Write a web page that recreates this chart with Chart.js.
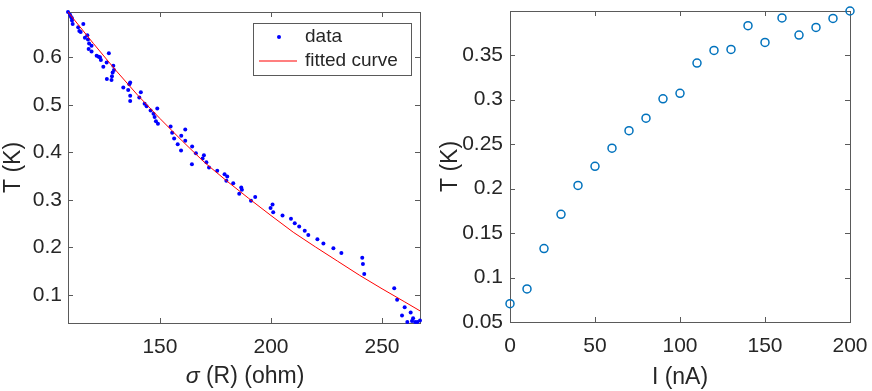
<!DOCTYPE html>
<html>
<head>
<meta charset="utf-8">
<script src="https://cdn.jsdelivr.net/npm/chart.js@4"></script>
<style>
  body { margin: 0; background: #fff; }
  #wrap { position: relative; width: 872px; height: 391px; }
  canvas { position: absolute; top: 0; }
</style>
</head>
<body>
<div id="wrap">
  <canvas id="fit-chart" width="436" height="391" style="left:0"></canvas>
  <canvas id="current-chart" width="436" height="391" style="left:436px"></canvas>
</div>
<script>
// left panel: measured points
const sigma = [108.6, 109.5, 109.9, 110.4, 110.4, 110.7, 113.2, 113.7, 114.3, 115.5, 116.2, 117.3, 117.6, 118.1, 117.9,
  119.2, 119.2, 121.5, 122.4, 123.0, 123.4, 124.5, 126.0, 126.1, 127.0, 128.2, 128.4, 128.7, 129.0, 129.3,
  133.5, 135.7, 136.2, 136.6, 136.6, 136.6, 140.7, 141.4, 143.1, 144.0, 145.8, 147.1, 147.6, 148.2, 148.8,
  149.1, 154.8, 155.5, 156.4, 158.0, 159.5, 159.6, 161.4, 161.4, 164.4, 164.5, 166.2, 169.2, 169.8, 170.9,
  172.1, 175.8, 179.1, 179.9, 180.3, 183.0, 185.7, 186.6, 186.9, 191.0, 192.9, 199.8, 200.7, 201.0, 205.2,
  209.0, 210.7, 212.7, 215.2, 216.8, 220.9, 223.6, 228.1, 231.7, 241.1, 241.4, 242.0, 255.5, 256.8, 259.0,
  260.2, 261.4, 262.9, 263.5, 264.0, 264.9, 265.9, 267.1]
const temp = [0.695, 0.689, 0.685, 0.682, 0.677, 0.670, 0.663, 0.655, 0.653, 0.670, 0.641, 0.646, 0.637, 0.629, 0.617,
  0.624, 0.612, 0.603, 0.601, 0.600, 0.594, 0.580, 0.589, 0.554, 0.608, 0.552, 0.560, 0.568, 0.582, 0.573,
  0.536, 0.531, 0.543, 0.547, 0.519, 0.508, 0.515, 0.526, 0.502, 0.497, 0.488, 0.481, 0.474, 0.465, 0.492,
  0.460, 0.454, 0.441, 0.429, 0.417, 0.404, 0.435, 0.448, 0.424, 0.375, 0.412, 0.398, 0.387, 0.394, 0.379,
  0.368, 0.361, 0.354, 0.340, 0.349, 0.335, 0.313, 0.326, 0.321, 0.298, 0.306, 0.283, 0.290, 0.274, 0.267,
  0.260, 0.251, 0.244, 0.235, 0.226, 0.217, 0.208, 0.198, 0.188, 0.178, 0.165, 0.144, 0.114, 0.090, 0.057,
  0.074, 0.043, 0.063, 0.045, 0.051, 0.043, 0.043, 0.046]

// left panel: fitted curve
const fitSigma = [108.6, 120, 130, 140, 150, 160, 170, 180, 190, 200, 210, 220, 230, 240, 250, 260, 267.1]
const fitTemp = [0.695, 0.629, 0.573, 0.520, 0.471, 0.424, 0.379, 0.340, 0.303, 0.267, 0.232, 0.201, 0.171, 0.141, 0.113, 0.086, 0.0665]

// right panel
const current = [0, 10, 20, 30, 40, 50, 60, 70, 80, 90, 100, 110, 120, 130, 140, 150, 160, 170, 180, 190, 200]
const tempVsCurrent = [0.0706, 0.0872, 0.1325, 0.171, 0.2035, 0.225, 0.2453, 0.265, 0.279, 0.3008, 0.307, 0.341,
  0.3552, 0.3563, 0.383, 0.3642, 0.3917, 0.3725, 0.381, 0.3912, 0.3995]

const TEXT = '#262626'
const AXIS = '#5a5a5a'
const DOT_COLOR = '#0000ff'
const FIT_COLOR = '#ff0000'
const TICK = 5
const FONT = '"Liberation Sans", Helvetica, Arial, sans-serif'

Chart.defaults.font.family = FONT
Chart.defaults.color = TEXT

const pairs = (xs, ys) => xs.map((x, i) => ({ x: x, y: ys[i] }))

// box around the plot area with inward ticks on all four sides
const framePlugin = {
  id: 'frame',
  beforeDatasetsDraw(chart) {
    const { ctx, chartArea: a, scales } = chart
    ctx.save()
    ctx.strokeStyle = AXIS
    ctx.lineWidth = 1
    ctx.strokeRect(a.left + 0.5, a.top + 0.5, a.right - a.left, a.bottom - a.top)
    ctx.beginPath()
    scales.x.ticks.forEach(t => {
      const px = Math.round(scales.x.getPixelForValue(t.value)) + 0.5
      ctx.moveTo(px, a.bottom); ctx.lineTo(px, a.bottom - TICK)
      ctx.moveTo(px, a.top); ctx.lineTo(px, a.top + TICK)
    })
    scales.y.ticks.forEach(t => {
      const py = Math.round(scales.y.getPixelForValue(t.value)) + 0.5
      ctx.moveTo(a.left, py); ctx.lineTo(a.left + TICK, py)
      ctx.moveTo(a.right, py); ctx.lineTo(a.right - TICK, py)
    })
    ctx.stroke()
    ctx.restore()
  }
}

const legendBox = {
  id: 'legendBox',
  afterDraw(chart) {
    const { ctx, chartArea: a } = chart
    const [dots, fit] = chart.data.datasets
    const x0 = a.right - 167, y0 = a.top + 11, w = 158, h = 52
    ctx.save()
    ctx.fillStyle = '#fff'
    ctx.fillRect(x0, y0, w, h)
    ctx.strokeStyle = AXIS
    ctx.lineWidth = 1
    ctx.strokeRect(x0 + 0.5, y0 + 0.5, w, h)
    ctx.fillStyle = DOT_COLOR
    ctx.beginPath()
    ctx.arc(x0 + 26, y0 + 14, 2, 0, 2 * Math.PI)
    ctx.fill()
    ctx.beginPath()
    ctx.strokeStyle = FIT_COLOR
    ctx.lineWidth = 1.2
    ctx.moveTo(x0 + 6, y0 + 38)
    ctx.lineTo(x0 + 44, y0 + 38)
    ctx.stroke()
    ctx.fillStyle = TEXT
    ctx.font = '19px ' + FONT
    ctx.textBaseline = 'middle'
    ctx.fillText(dots.label, x0 + 52, y0 + 14)
    ctx.fillText(fit.label, x0 + 52, y0 + 38)
    ctx.restore()
  }
}

// x label of the left panel, with an italic sigma
const sigmaTitle = {
  id: 'sigmaTitle',
  afterDraw(chart) {
    const { ctx, chartArea: a } = chart
    const head = 'σ', rest = ' (R) (ohm)'
    ctx.save()
    ctx.fillStyle = TEXT
    ctx.textBaseline = 'middle'
    ctx.font = 'italic 23px ' + FONT
    const w1 = ctx.measureText(head).width
    ctx.font = '23px ' + FONT
    const w2 = ctx.measureText(rest).width
    const x = (a.left + a.right) / 2 - (w1 + w2) / 2 + 1
    ctx.font = 'italic 23px ' + FONT
    ctx.fillText(head, x, 377)
    ctx.font = '23px ' + FONT
    ctx.fillText(rest, x + w1, 377)
    ctx.restore()
  }
}

const axis = (min, max, step, title, size, titlePad, tickPad) => ({
  type: 'linear',
  min: min,
  max: max,
  grid: { display: false, drawTicks: false },
  border: { display: false },
  ticks: {
    stepSize: step,
    includeBounds: false,
    autoSkip: false,
    maxRotation: 0,
    padding: tickPad,
    color: TEXT,
    font: { size: 21 },
    callback: v => String(+v.toFixed(2))
  },
  title: { display: title !== '', text: title, color: TEXT, font: { size: 23 }, padding: { top: titlePad, bottom: titlePad } },
  afterFit: s => {
    if (s.isHorizontal()) s.height = size; else s.width = size
    s.paddingTop = 0; s.paddingBottom = 0; s.paddingLeft = 0; s.paddingRight = 0
  }
})

const baseOptions = (padding, x, y) => ({
  animation: false,
  responsive: false,
  layout: { padding: padding },
  plugins: { legend: { display: false }, tooltip: { enabled: false } },
  scales: { x: x, y: y }
})

new Chart(document.getElementById('fit-chart'), {
  type: 'scatter',
  data: {
    datasets: [{
      label: 'data',
      data: pairs(sigma, temp),
      pointRadius: 2,
      pointBorderWidth: 0,
      pointBackgroundColor: DOT_COLOR,
      showLine: false,
      clip: false,
      order: 2
    }, {
      label: 'fitted curve',
      data: pairs(fitSigma, fitTemp),
      showLine: true,
      borderColor: FIT_COLOR,
      borderWidth: 1,
      pointRadius: 0,
      tension: 0,
      order: 1
    }]
  },
  options: baseOptions({ top: 12, right: 16, left: 0, bottom: 0 },
    axis(108.6, 267.1, 50, '', 68, 0, 12),
    axis(0.041, 0.695, 0.1, 'T (K)', 68, 0, 6)),
  plugins: [framePlugin, legendBox, sigmaTitle]
})

new Chart(document.getElementById('current-chart'), {
  type: 'scatter',
  data: {
    datasets: [{
      label: 'T',
      data: pairs(current, tempVsCurrent),
      pointRadius: 4,
      pointBorderWidth: 1.5,
      pointBorderColor: '#0072bd',
      pointBackgroundColor: 'rgba(0,0,0,0)',
      showLine: false,
      clip: false
    }]
  },
  options: baseOptions({ top: 11, right: 22, left: 0, bottom: 0 },
    axis(0, 200, 50, 'I (nA)', 69, 0, 12),
    axis(0.05, 0.3995, 0.05, 'T (K)', 74, 1, 7)),
  plugins: [framePlugin]
})
</script>
</body>
</html>
